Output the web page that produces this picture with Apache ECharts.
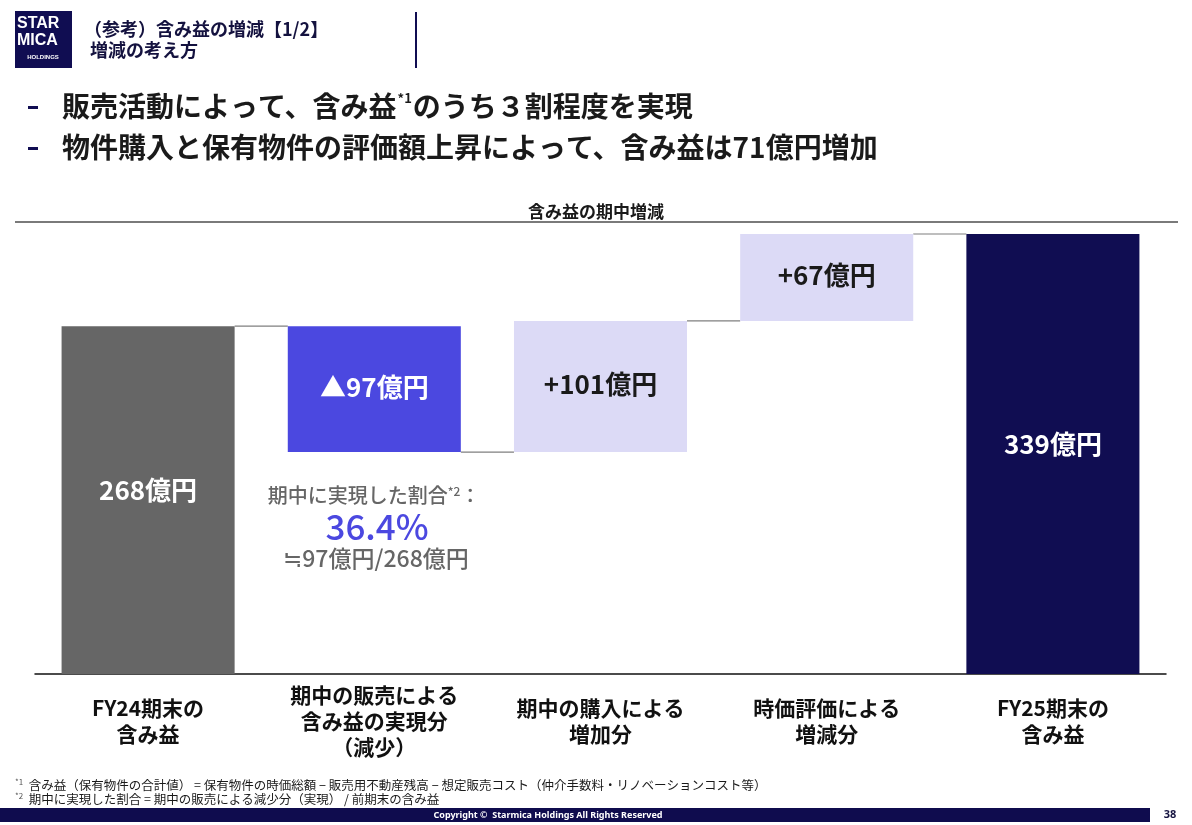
<!DOCTYPE html>
<html>
<head>
<meta charset="utf-8">
<script src="https://cdn.jsdelivr.net/npm/echarts@6/dist/echarts.min.js"></script>
<style>
html,body{margin:0;padding:0;background:#fff;}
#chart{width:1192px;height:825px;}
</style>
</head>
<body>
<div id="chart"></div>
<script>
// ---- data ----
const categories = ['FY24期末の\n含み益', '期中の販売による\n含み益の実現分\n（減少）', '期中の購入による\n増加分', '時価評価による\n増減分', 'FY25期末の\n含み益'];
const changes = [268, -97, 101, 67, 339];
const kinds = ['total', 'decrease', 'increase', 'increase', 'total'];
const valueLabels = ['268億円', '▲97億円', '+101億円', '+67億円', '339億円'];
const chartTitle = '含み益の期中増減';
const realizedRatio = '36.4%';

// ---- styles ----
const FONT = '"Noto Sans CJK JP", "Noto Sans", sans-serif';
const NAVY = '#100D52';
const kindColor = { total0: '#666666', decrease: '#4B48E0', increase: '#DCDAF6', total1: NAVY };
const BAR_RATIO = 0.765;

// waterfall computation from data
const bases = [], heights = [], levels = [];
let running = 0;
changes.forEach((v, i) => {
  if (kinds[i] === 'total') { bases.push(0); heights.push(v); running = v; }
  else if (v < 0) { running += v; bases.push(running); heights.push(-v); }
  else { bases.push(running); heights.push(v); running += v; }
  levels.push(running);
});

const barData = heights.map((h, i) => {
  let color;
  if (kinds[i] === 'total') color = i === 0 ? kindColor.total0 : kindColor.total1;
  else color = kindColor[kinds[i]];
  const dark = kinds[i] !== 'increase';
  return {
    value: h,
    itemStyle: { color },
    label: {
      color: dark ? '#ffffff' : '#1a1a1a',
      offset: kinds[i] === 'total' ? [0, -10] : [0, -2]
    }
  };
});

const connectorData = levels.slice(0, levels.length - 1).map((v, i) => [i, v]);

const chart = echarts.init(document.getElementById('chart'));
chart.setOption({
  backgroundColor: '#ffffff',
  animation: false,
  textStyle: { fontFamily: FONT },
  title: {
    text: chartTitle,
    left: 'center',
    top: 198,
    textStyle: { fontFamily: FONT, fontSize: 17, fontWeight: 'bold', color: '#1a1a1a' }
  },
  grid: { left: 35, right: 26, top: 234, bottom: 151, containLabel: false },
  xAxis: {
    type: 'category',
    data: categories,
    axisLine: { lineStyle: { color: '#111', width: 1.5 } },
    axisTick: { show: false },
    axisLabel: {
      interval: 0,
      margin: 47,
      verticalAlign: 'middle',
      fontFamily: FONT,
      fontSize: 21,
      fontWeight: 'bold',
      lineHeight: 26,
      color: '#111'
    }
  },
  yAxis: { type: 'value', min: 0, max: 339, show: false, splitLine: { show: false } },
  series: [
    {
      type: 'bar', stack: 'wf', barWidth: (BAR_RATIO * 100) + '%',
      itemStyle: { color: 'transparent' },
      data: bases, silent: true
    },
    {
      type: 'bar', stack: 'wf', barWidth: (BAR_RATIO * 100) + '%',
      data: barData,
      label: {
        show: true,
        position: 'inside',
        fontFamily: FONT,
        fontSize: 26,
        fontWeight: 'bold',
        formatter: p => valueLabels[p.dataIndex]
      }
    },
    {
      type: 'custom',
      data: connectorData,
      silent: true,
      z: 1,
      renderItem: function (params, api) {
        const p = api.coord([api.value(0), api.value(1)]);
        const band = api.size([1, 0])[0];
        const bw = band * BAR_RATIO;
        return {
          type: 'line',
          shape: { x1: p[0] + bw / 2, y1: p[1], x2: p[0] + band - bw / 2, y2: p[1] },
          style: { stroke: '#7f7f7f', lineWidth: 1.2 }
        };
      }
    }
  ],
  graphic: [
    // logo
    { type: 'rect', shape: { x: 15, y: 11, width: 57, height: 57 }, style: { fill: NAVY } },
    { type: 'text', x: 17, y: 16, style: { text: 'STAR', fill: '#fff', font: 'bold 16px "Liberation Sans", sans-serif' } },
    { type: 'text', x: 17, y: 33, style: { text: 'MICA', fill: '#fff', font: 'bold 16px "Liberation Sans", sans-serif' } },
    { type: 'text', x: 43, y: 57, style: { text: 'HOLDINGS', fill: '#fff', font: 'bold 6px "Liberation Sans", sans-serif', align: 'center', verticalAlign: 'middle' } },
    // header titles
    { type: 'text', x: 84, y: 29, style: { text: '（参考）含み益の増減【1/2】', fill: '#14123f', font: 'bold 18px ' + FONT, verticalAlign: 'middle' } },
    { type: 'text', x: 90, y: 50, style: { text: '増減の考え方', fill: '#14123f', font: 'bold 18px ' + FONT, verticalAlign: 'middle' } },
    { type: 'rect', shape: { x: 415, y: 12, width: 2, height: 56 }, style: { fill: NAVY } },
    // bullets
    { type: 'rect', shape: { x: 28, y: 106, width: 10, height: 3 }, style: { fill: NAVY } },
    { type: 'rect', shape: { x: 28, y: 147, width: 10, height: 3 }, style: { fill: NAVY } },
    {
      type: 'text', x: 62, y: 106,
      style: {
        text: '{m|販売活動によって、含み益}{s|*1}{m|のうち３割程度を実現}',
        verticalAlign: 'middle',
        rich: {
          m: { font: 'bold 28px ' + FONT, fill: '#1a1a1a' },
          s: { font: 'bold 13px ' + FONT, fill: '#1a1a1a', verticalAlign: 'top', padding: [0, 1, 13, 1] }
        }
      }
    },
    { type: 'text', x: 62, y: 147, style: { text: '物件購入と保有物件の評価額上昇によって、含み益は71億円増加', fill: '#1a1a1a', font: 'bold 28px ' + FONT, verticalAlign: 'middle' } },
    // title underline
    { type: 'rect', shape: { x: 15, y: 221, width: 1163, height: 2 }, style: { fill: '#7a7a7a' } },
    // annotation
    {
      type: 'text', x: 374, y: 495,
      style: {
        text: '{m|期中に実現した割合}{s|*2}{m|：}',
        align: 'center', verticalAlign: 'middle',
        rich: {
          m: { font: '500 20px ' + FONT, fill: '#666666' },
          s: { font: '500 12px ' + FONT, fill: '#666666', verticalAlign: 'top', padding: [0, 0, 8, 0] }
        }
      }
    },
    { type: 'text', x: 377, y: 527, style: { text: realizedRatio, fill: '#4B48E0', font: '500 35px ' + FONT, align: 'center', verticalAlign: 'middle' } },
    { type: 'text', x: 376, y: 558, style: { text: '≒97億円/268億円', fill: '#666666', font: '500 23px ' + FONT, align: 'center', verticalAlign: 'middle' } },
    // footnotes
    {
      type: 'text', x: 15, y: 785,
      style: {
        text: '{s|*1}{m|  含み益（保有物件の合計値） = 保有物件の時価総額 − 販売用不動産残高 − 想定販売コスト（仲介手数料・リノベーションコスト等）}',
        verticalAlign: 'middle',
        rich: {
          m: { font: '12.5px ' + FONT, fill: '#1a1a1a' },
          s: { font: '8px ' + FONT, fill: '#555', verticalAlign: 'top', padding: [0, 0, 6, 0] }
        }
      }
    },
    {
      type: 'text', x: 15, y: 799,
      style: {
        text: '{s|*2}{m|  期中に実現した割合 = 期中の販売による減少分（実現） / 前期末の含み益}',
        verticalAlign: 'middle',
        rich: {
          m: { font: '12.5px ' + FONT, fill: '#1a1a1a' },
          s: { font: '8px ' + FONT, fill: '#555', verticalAlign: 'top', padding: [0, 0, 6, 0] }
        }
      }
    },
    // footer
    { type: 'rect', shape: { x: 0, y: 808, width: 1150, height: 14 }, style: { fill: '#0F0C4E' } },
    { type: 'text', x: 548, y: 815, style: { text: 'Copyright ©  Starmica Holdings All Rights Reserved', fill: '#fff', font: 'bold 9px "Noto Sans", sans-serif', align: 'center', verticalAlign: 'middle' } },
    { type: 'text', x: 1170, y: 815, style: { text: '38', fill: '#14123f', font: 'bold 11px "Noto Sans", sans-serif', align: 'center', verticalAlign: 'middle' } }
  ]
});
</script>
</body>
</html>
